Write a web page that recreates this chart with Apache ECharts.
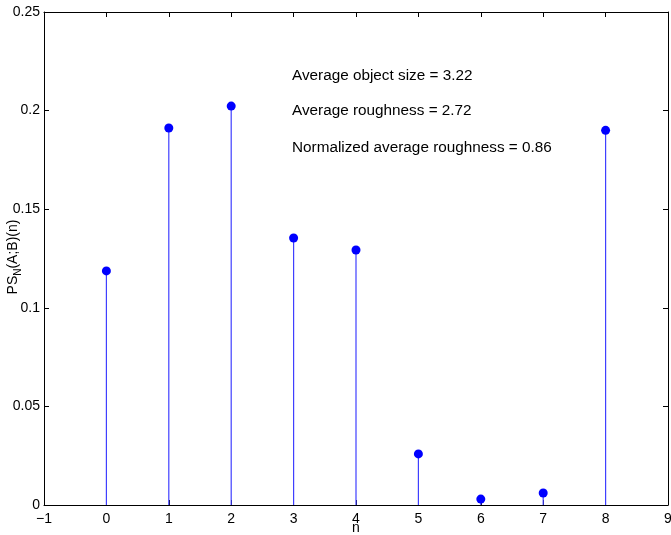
<!DOCTYPE html>
<html>
<head>
<meta charset="utf-8">
<script src="https://cdn.jsdelivr.net/npm/echarts@6/dist/echarts.min.js"></script>
<style>
  html, body { margin: 0; padding: 0; background: #fff; }
  #main { width: 671px; height: 535px; }
</style>
</head>
<body>
<div id="main"></div>
<script>
// stem plot values
var nValues = [0, 1, 2, 3, 4, 5, 6, 7, 8];
var psValues = [0.1187, 0.1912, 0.2023, 0.1354, 0.1293, 0.0259, 0.0030, 0.0061, 0.1900];
var notes = [
  "Average object size = 3.22",
  "Average roughness = 2.72",
  "Normalized average roughness = 0.86"
];

var stemData = [];
for (var i = 0; i < nValues.length; i++) {
  stemData.push([nValues[i], psValues[i]]);
}

var myChart = echarts.init(document.getElementById("main"));
var fontFam = "Liberation Sans, Arial, sans-serif";

var axisCommon = {
  axisLine: { show: true, onZero: false, lineStyle: { color: "#000", width: 1 } },
  axisTick: { show: true, inside: true, length: 5, lineStyle: { color: "#000" } },
  splitLine: { show: false }
};

myChart.setOption({
  animation: false,
  grid: { left: 44, right: 3, top: 12, bottom: 30, containLabel: false, outerBoundsMode: "none" },
  xAxis: [
    Object.assign({
      type: "value", min: -1, max: 9, interval: 1, position: "bottom",
      axisLabel: { color: "#000", fontSize: 14, fontFamily: fontFam, margin: 7,
        formatter: function (v) { return v < 0 ? "\u2212" + (-v) : String(v); } }
    }, axisCommon),
    Object.assign({
      type: "value", min: -1, max: 9, interval: 1, position: "top",
      axisLabel: { show: false }
    }, axisCommon)
  ],
  yAxis: [
    Object.assign({
      type: "value", min: 0, max: 0.25, interval: 0.05, position: "left",
      axisLabel: { color: "#000", fontSize: 14, fontFamily: fontFam, margin: 4 }
    }, axisCommon),
    Object.assign({
      type: "value", min: 0, max: 0.25, interval: 0.05, position: "right",
      axisLabel: { show: false }
    }, axisCommon)
  ],
  graphic: notes.map(function (t, k) {
    return {
      type: "text", left: 292, top: [68, 103, 140][k],
      style: { text: t, fill: "#000", font: "15.3px " + fontFam }
    };
  }).concat([
    {
      // x axis name
      type: "text", x: 356, y: 528,
      style: { text: "n", fill: "#000", font: "14px " + fontFam, align: "center", verticalAlign: "middle" }
    },
    {
      // y axis name with subscript
      type: "text", x: 15, y: 257, rotation: Math.PI / 2,
      style: {
        text: "{a|PS}{s|N}{a|(A;B)(n)}",
        align: "center", verticalAlign: "middle",
        rich: {
          a: { fontSize: 14, fontFamily: fontFam, fill: "#000", verticalAlign: "top", lineHeight: 18 },
          s: { fontSize: 10, fontFamily: fontFam, fill: "#000", verticalAlign: "top", lineHeight: 18, padding: [7, 0, 0, 0] }
        }
      }
    }
  ]),
  series: [
    {
      type: "custom",
      xAxisIndex: 0, yAxisIndex: 0,
      data: stemData,
      renderItem: function (params, api) {
        var top = api.coord([api.value(0), api.value(1)]);
        var base = api.coord([api.value(0), 0]);
        return {
          type: "line",
          shape: { x1: top[0], y1: top[1], x2: base[0], y2: base[1] },
          style: { stroke: "#3f3fff", lineWidth: 1.2 }
        };
      },
      z: 2
    },
    {
      type: "scatter",
      xAxisIndex: 0, yAxisIndex: 0,
      data: stemData,
      symbol: "circle",
      symbolSize: 9,
      itemStyle: { color: "#0000ff", opacity: 1 },
      z: 3
    }
  ]
});
</script>
</body>
</html>
